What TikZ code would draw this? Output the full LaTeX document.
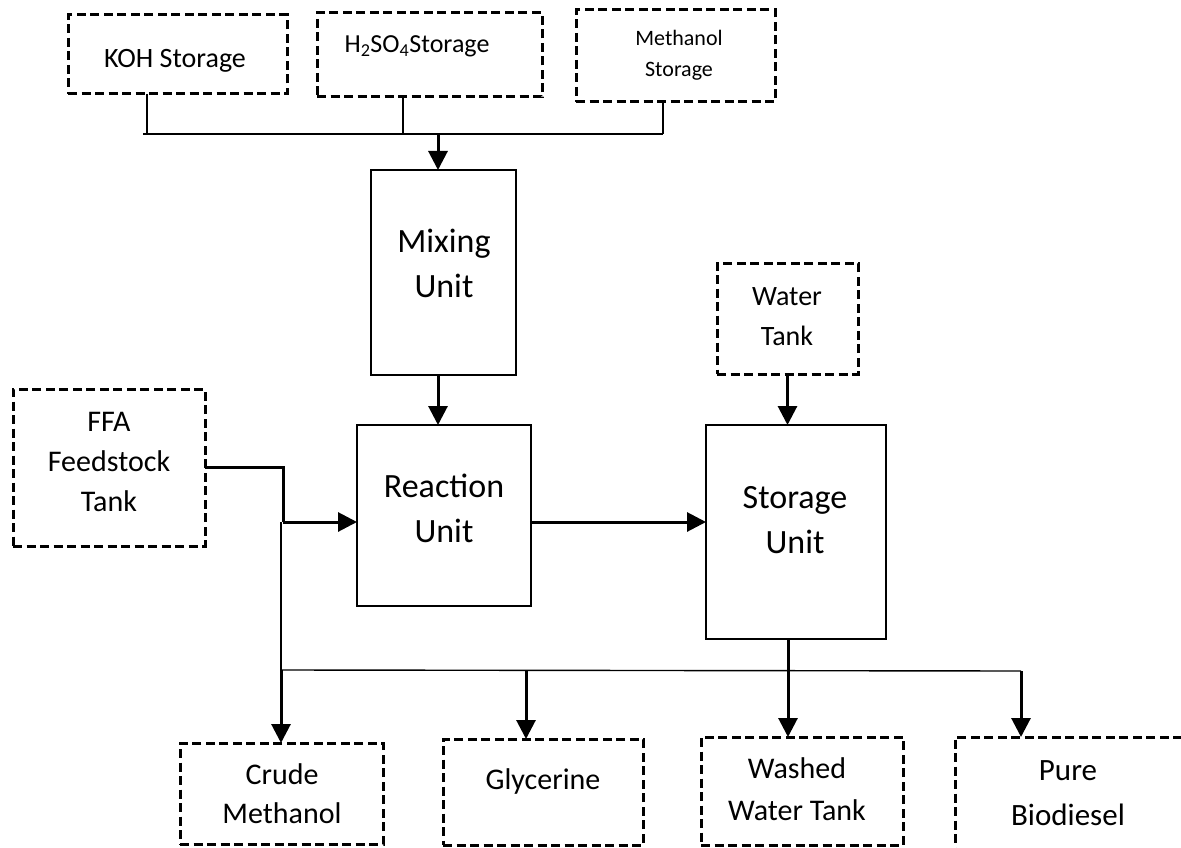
\documentclass[tikz,border=0pt]{standalone}
\usepackage{fontspec}
\setmainfont{Carlito}
\usetikzlibrary{arrows.meta}
\begin{document}
\begin{tikzpicture}[x=1pt,y=-1pt,
  solidbox/.style={draw,line width=1.5pt,inner sep=0pt,outer sep=0pt},
  dbox/.style={draw,line width=3pt,dash pattern=on 9pt off 4.5pt,inner sep=0pt,outer sep=0pt},
  txt/.style={anchor=base,align=center,inner sep=0pt},
  thinln/.style={line width=1.4pt},
  arr/.style={line width=3pt,-{Triangle[length=19pt,width=19pt]}},
  thk/.style={line width=3pt}]
\useasboundingbox (0,0) rectangle (1181,848);
\clip (0,0) rectangle (1181,848);
% boxes
\node[dbox,minimum width=219pt,minimum height=79pt] (koh) at (177.5,54.5) {};
\node[dbox,minimum width=225pt,minimum height=84pt] (h2so4) at (429.5,55) {};
\node[dbox,minimum width=199pt,minimum height=92pt] (meth) at (675.5,56) {};
\node[solidbox,minimum width=145pt,minimum height=205pt] (mix) at (443.5,272.5) {};
\node[solidbox,minimum width=174pt,minimum height=181pt] (react) at (444,515.5) {};
\node[solidbox,minimum width=180pt,minimum height=214pt] (stor) at (796,532) {};
\node[dbox,minimum width=141pt,minimum height=111pt] (water) at (787.5,318.5) {};
\node[dbox,minimum width=192pt,minimum height=157pt] (ffa) at (109,467.5) {};
\node[dbox,minimum width=203pt,minimum height=101pt] (crude) at (281.5,793.5) {};
\node[dbox,minimum width=200pt,minimum height=106pt] (glyc) at (543,792) {};
\node[dbox,minimum width=202pt,minimum height=108pt] (washed) at (802,791) {};
\node[dbox,minimum width=230pt,minimum height=118pt] (pure) at (1070,796) {};
% texts (anchor = baseline of last line)
\node[txt,font=\fontsize{28}{32}\selectfont] (tkoh) at (175,68) {KOH Storage};
\node[txt,font=\fontsize{26}{32}\selectfont] (th2) at (417,53) {H\textsubscript{2}SO\textsubscript{4}Storage};
\node[txt,font=\fontsize{22}{31}\selectfont] (tmeth) at (679,77) {Methanol\\Storage};
\node[txt,font=\fontsize{34}{45}\selectfont] (tmix) at (444,297) {Mixing\\Unit};
\node[txt,font=\fontsize{34}{45}\selectfont] (treact) at (444,542) {Reaction\\Unit};
\node[txt,font=\fontsize{34}{45}\selectfont] (tstor) at (795,553) {Storage\\Unit};
\node[txt,font=\fontsize{28}{40}\selectfont] (twater) at (787,345) {Water\\Tank};
\node[txt,font=\fontsize{30}{40}\selectfont] (tffa) at (109,511) {FFA\\Feedstock\\Tank};
\node[txt,font=\fontsize{30}{39}\selectfont] (tcrude) at (282,823) {Crude\\Methanol};
\node[txt,font=\fontsize{30}{40}\selectfont] (tglyc) at (543,789) {Glycerine};
\node[txt,font=\fontsize{30}{42}\selectfont] (twashed) at (797,820) {Washed\\Water Tank};
\node[txt,font=\fontsize{31}{45}\selectfont] (tpure) at (1068,825) {Pure\\Biodiesel};
% top collector
\coordinate (jk) at (147,134);
\coordinate (jh) at (403,134);
\coordinate (jr) at (663,134);
\coordinate (jl) at (143,134);
\coordinate (jm) at (438,134);
\draw[thinln] (koh.south -| jk) -- (jk);
\draw[thinln] (h2so4.south -| jh) -- (jh);
\draw[thinln] (meth.south -| jr) -- (jr);
\draw[thinln] (jl) -- (jr);
\draw[arr] (jm) -- (jm |- mix.north);
\draw[arr] (mix.south -| jm) -- (react.north -| jm);
\draw[arr] (water.south) -- (water.south |- stor.north);
% feed line
\coordinate (fb) at (283,522);
\draw[thk] (ffa.east) -| (fb);
\draw[arr] (fb) -- (fb -| react.west);
\draw[arr] (react.east |- fb) -- (stor.west |- fb);
% bottom distributor
\coordinate (bl) at (281,670);
\coordinate (br) at (1021,671);
\coordinate (bg) at (526,670);
\draw[thinln] (bl |- fb) -- (bl);
\draw[thinln] (bl) -- (br);
\draw[arr] (bl) -- (bl |- crude.north);
\draw[arr] (bg) -- (bg |- glyc.north);
\draw[arr] ([xshift=-8pt]stor.south) -- ([xshift=-8pt]stor.south |- washed.north);
\draw[arr] (br) -- (br |- pure.north);
\end{tikzpicture}
\end{document}
